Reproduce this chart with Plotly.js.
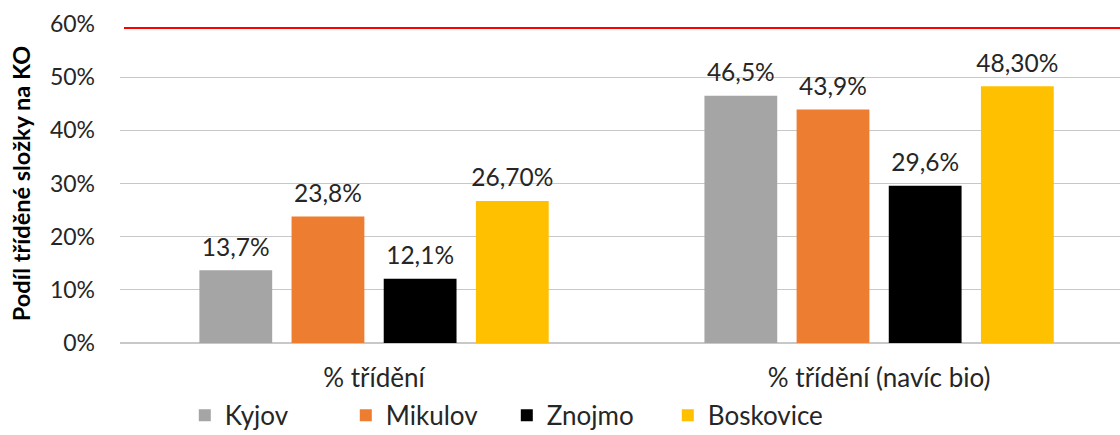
<!DOCTYPE html>
<html>
<head>
<meta charset="utf-8">
<script src="https://cdn.plot.ly/plotly-3.0.1.min.js"></script>
<style>html,body{margin:0;padding:0;background:#fff;}#chart{width:1120px;height:435px;}</style>
</head>
<body>
<div id="chart"></div>
<script>
const categories = ["% třídění", "% třídění (navíc bio)"];
const seriesNames = ["Kyjov", "Mikulov", "Znojmo", "Boskovice"];
const kyjov = [0.137, 0.465];
const mikulov = [0.238, 0.439];
const znojmo = [0.121, 0.296];
const boskovice = [0.267, 0.483];
const kyjovLabels = ["13,7%", "46,5%"];
const mikulovLabels = ["23,8%", "43,9%"];
const znojmoLabels = ["12,1%", "29,6%"];
const boskoviceLabels = ["26,70%", "48,30%"];
const targetLevel = 0.5925;
const yTickVals = [0, 0.1, 0.2, 0.3, 0.4, 0.5, 0.6];
const yTickText = ["0%", "10%", "20%", "30%", "40%", "50%", "60%"];

const colors = ["#a5a5a5", "#ed7d31", "#000000", "#ffc000"];
const values = [kyjov, mikulov, znojmo, boskovice];
const labels = [kyjovLabels, mikulovLabels, znojmoLabels, boskoviceLabels];
const FONT = "Lato, 'Open Sans', sans-serif";
const GAP = 0.27;

const barTraces = seriesNames.map((n, i) => ({
  type: "bar",
  name: n,
  x: categories,
  y: values[i],
  marker: {color: colors[i]},
  hoverinfo: "skip"
}));

const labelTraces = seriesNames.map((n, i) => ({
  type: "scatter",
  mode: "markers+text",
  name: n + " label",
  showlegend: false,
  x: categories,
  y: values[i],
  text: labels[i],
  textposition: "top center",
  cliponaxis: false,
  marker: {size: 12, opacity: 0, color: colors[i]},
  textfont: {family: FONT, size: 24.5, color: "#262626"},
  hoverinfo: "skip"
}));

const layout = {
  width: 1120, height: 435,
  margin: {l: 120, r: 0, t: 24, b: 92},
  paper_bgcolor: "#fff", plot_bgcolor: "#fff",
  barmode: "group",
  bargap: GAP,
  bargroupgap: 0.21,
  scattermode: "group",
  scattergap: GAP,
  font: {family: FONT, size: 20, color: "#262626"},
  xaxis: {
    type: "category",
    range: [-0.503, 1.477],
    automargin: false,
    tickfont: {family: FONT, size: 26, color: "#262626"},
    ticks: "", showgrid: false, showline: false, zeroline: false,
    ticklabelstandoff: 17
  },
  yaxis: {
    range: [0, 0.6],
    automargin: false,
    tickvals: yTickVals, ticktext: yTickText,
    tickfont: {family: FONT, size: 23, color: "#262626"},
    showgrid: true, gridcolor: "#c8c8c8", gridwidth: 1.3,
    zeroline: true, zerolinecolor: "#c8c8c8", zerolinewidth: 1.3,
    showline: false, ticks: "",
    ticklabelstandoff: 24,
    title: {text: "Podíl tříděné složky na KO", font: {family: FONT, size: 23.5, color: "#000", weight: "bold"}, standoff: 12}
  },
  shapes: [{
    type: "line", xref: "paper", x0: 0.004, x1: 1, yref: "y", y0: targetLevel, y1: targetLevel,
    line: {color: "#ff0000", width: 2}
  }],
  legend: {
    orientation: "h", xref: "container", yref: "container",
    x: 0.165, xanchor: "left", y: 0.045, yanchor: "middle",
    font: {family: FONT, size: 26, color: "#262626"},
    itemwidth: 30, traceorder: "normal",
    entrywidth: 116, entrywidthmode: "pixels"
  },
  showlegend: true
};

Plotly.newPlot("chart", barTraces.concat(labelTraces), layout, {displayModeBar: false, staticPlot: true});
</script>
</body>
</html>
